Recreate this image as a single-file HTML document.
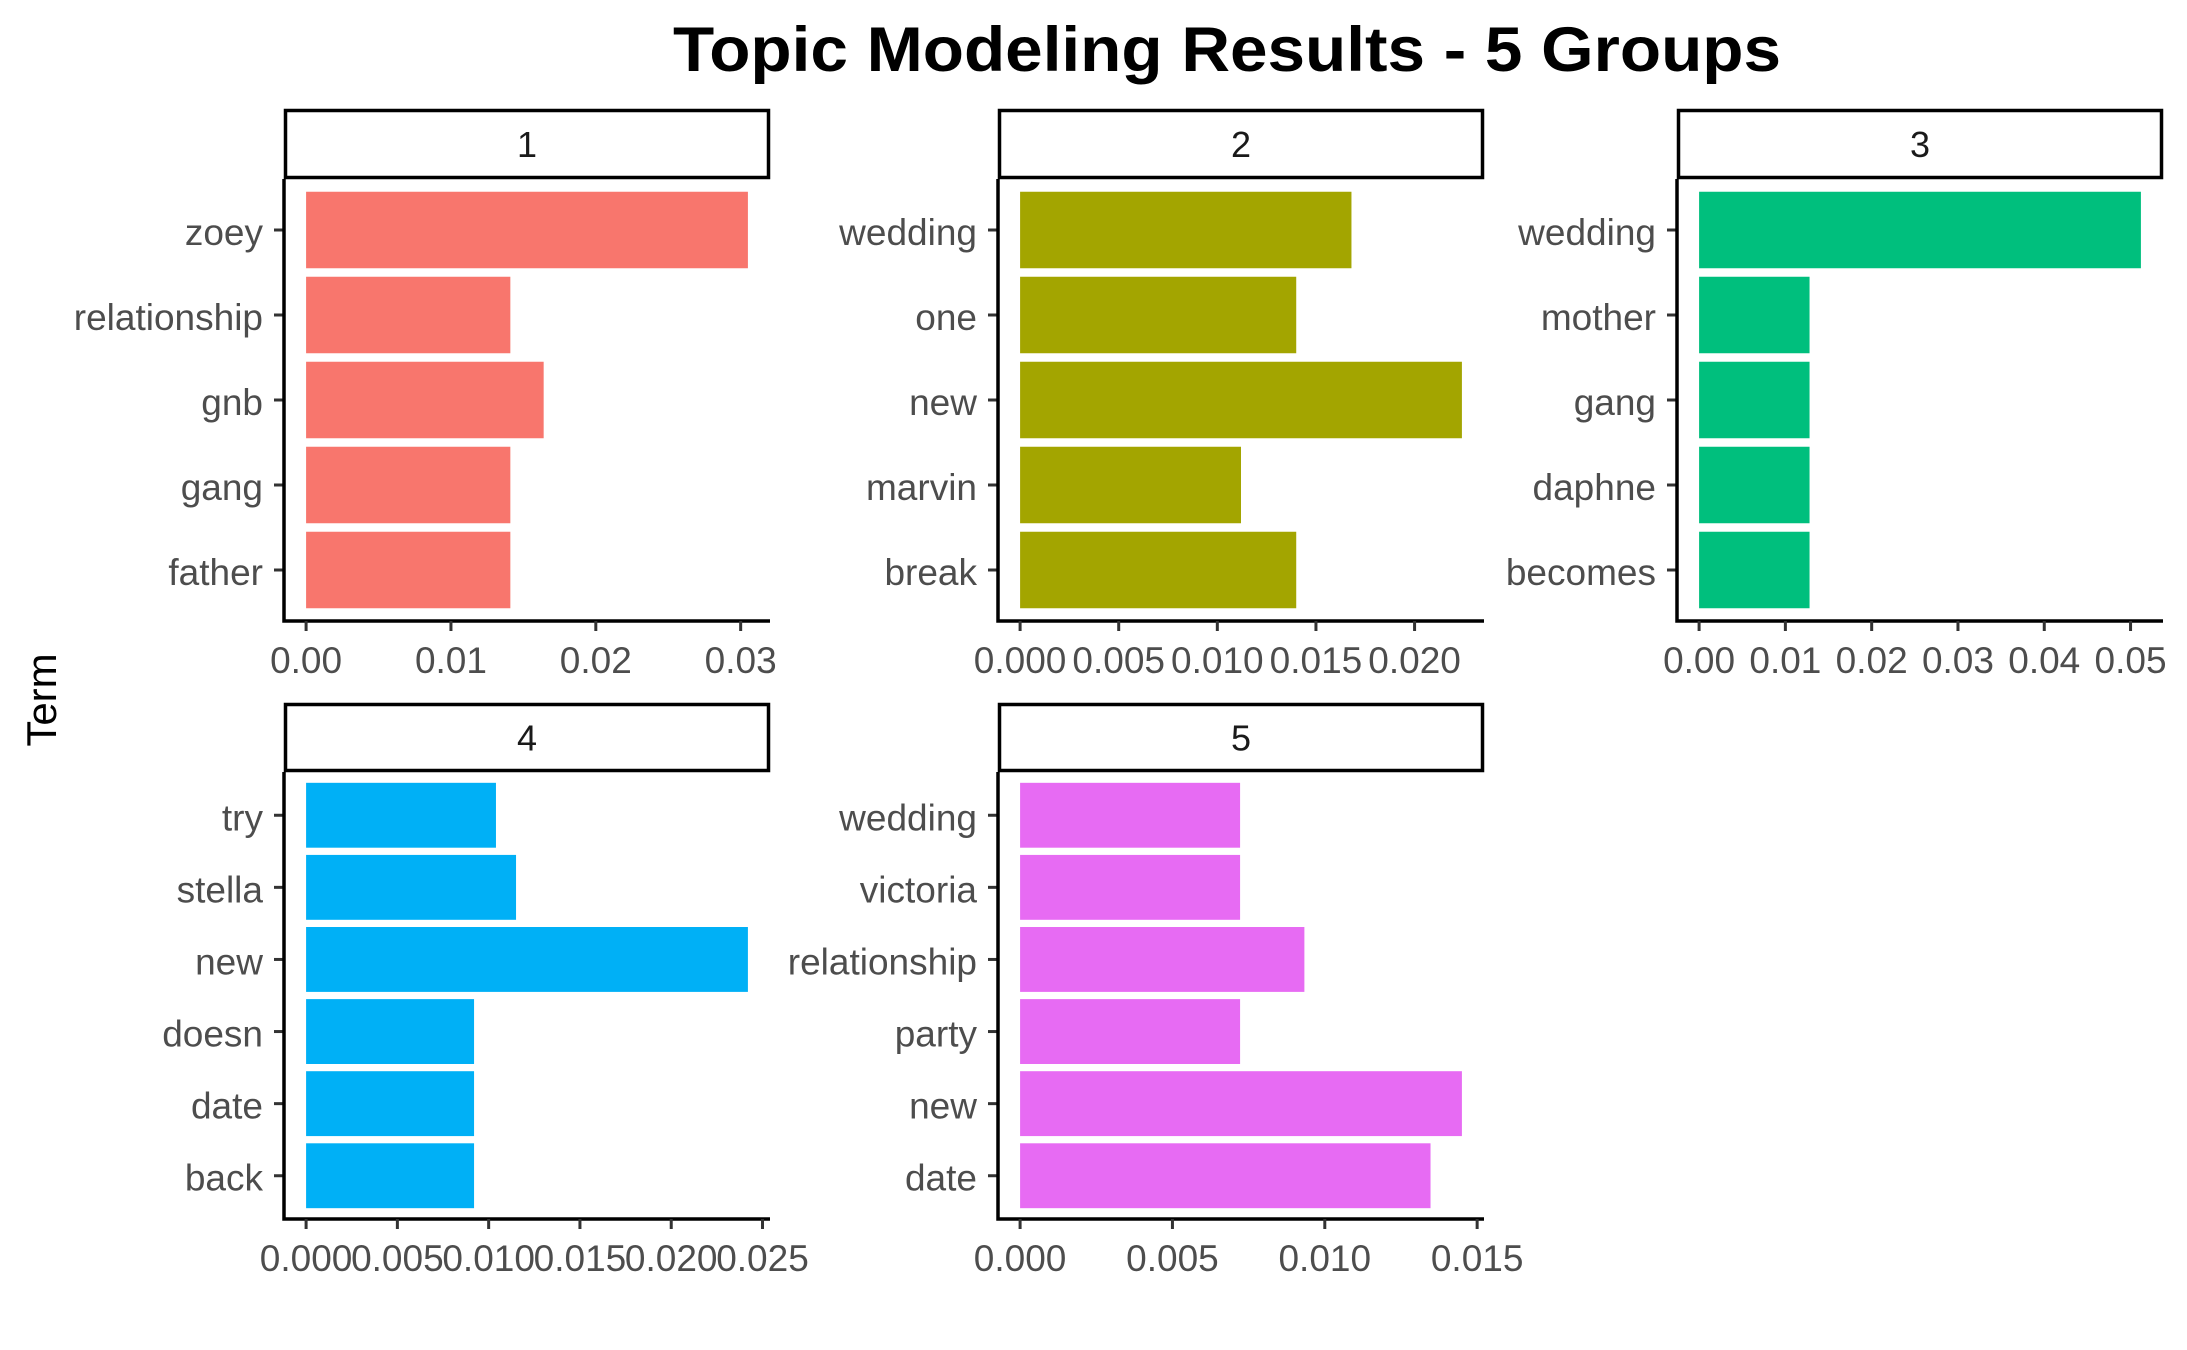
<!DOCTYPE html>
<html><head><meta charset="utf-8"><style>
html,body{margin:0;padding:0;background:#fff}
svg{display:block}
text{font-family:"Liberation Sans",Arial,sans-serif}
</style></head><body>
<svg id="chart" width="2187" height="1350" viewBox="0 0 2187 1350" xmlns="http://www.w3.org/2000/svg">
<text x="1227" y="71" text-anchor="middle" font-size="63" font-weight="bold" textLength="1108" lengthAdjust="spacingAndGlyphs">Topic Modeling Results - 5 Groups</text>
<text transform="translate(56,700) rotate(-90)" text-anchor="middle" font-size="42">Term</text>
<g id="panels"></g>
</svg>
<script>
const topics = ["1","2","3","4","5"];
const terms1 = ["zoey","relationship","gnb","gang","father"];
const beta1 = [0.0305,0.0141,0.0164,0.0141,0.0141];
const terms2 = ["wedding","one","new","marvin","break"];
const beta2 = [0.0168,0.0140,0.0224,0.0112,0.0140];
const terms3 = ["wedding","mother","gang","daphne","becomes"];
const beta3 = [0.0512,0.0128,0.0128,0.0128,0.0128];
const terms4 = ["try","stella","new","doesn","date","back"];
const beta4 = [0.0104,0.0115,0.0242,0.0092,0.0092,0.0092];
const terms5 = ["wedding","victoria","relationship","party","new","date"];
const beta5 = [0.00722,0.00722,0.00933,0.00722,0.0145,0.01347];
const ticks1 = [0,0.01,0.02,0.03];
const tickLabels1 = ["0.00","0.01","0.02","0.03"];
const ticks2 = [0,0.005,0.01,0.015,0.02];
const tickLabels2 = ["0.000","0.005","0.010","0.015","0.020"];
const ticks3 = [0,0.01,0.02,0.03,0.04,0.05];
const tickLabels3 = ["0.00","0.01","0.02","0.03","0.04","0.05"];
const ticks4 = [0,0.005,0.01,0.015,0.02,0.025];
const tickLabels4 = ["0.000","0.005","0.010","0.015","0.020","0.025"];
const ticks5 = [0,0.005,0.01,0.015];
const tickLabels5 = ["0.000","0.005","0.010","0.015"];
const colors = ["#F8766D","#A3A500","#00BF7D","#00B0F6","#E76BF3"];

const NS="http://www.w3.org/2000/svg";
const root=document.getElementById('panels');
function mk(tag,attrs,parent){const e=document.createElementNS(NS,tag);for(const k in attrs)e.setAttribute(k,attrs[k]);(parent||root).appendChild(e);return e;}
const cols=[284,998,1677];
const rows=[{st:109,sb:179,bot:621},{st:703,sb:772,bot:1219}];
const W=486;
const panels=[[terms1,beta1,ticks1,tickLabels1],[terms2,beta2,ticks2,tickLabels2],[terms3,beta3,ticks3,tickLabels3],[terms4,beta4,ticks4,tickLabels4],[terms5,beta5,ticks5,tickLabels5]];
panels.forEach((p,i)=>{
  const [terms,vals,ticks,tl]=p;
  const L=cols[i%3], R=L+W, row=rows[Math.floor(i/3)];
  const g=mk('g',{});
  
  
  const max=Math.max(...vals);
  const lo=-0.05*max, hi=1.05*max;
  const x=v=>L+(v-lo)/(hi-lo)*W;
  const top=row.sb, bot=row.bot, n=terms.length;
  const unit=(bot-top)/(n-1+1.2);
  const yc=j=>top+(0.6+j)*unit;
  const s=mk('rect',{x:L+1.5,y:row.st+1.5,width:W-3,height:row.sb-row.st-3,fill:'#fff',stroke:'#000','stroke-width':3.5},g);
  
  
  const st=mk('text',{x:L+W/2,y:(row.st+row.sb)/2+13,'text-anchor':'middle','font-size':36,fill:'#1a1a1a'},g);
  st.textContent=topics[i];
  
  
  vals.forEach((v,j)=>{
    const b=mk('rect',{x:x(0),y:yc(j)-0.45*unit,width:x(v)-x(0),height:0.9*unit,fill:colors[i]},g);
    
    
    mk('line',{x1:L-10,x2:L,y1:yc(j),y2:yc(j),stroke:'#333','stroke-width':3},g);
    const t=mk('text',{x:L-21,y:yc(j)+15,'text-anchor':'end','font-size':37,fill:'#4d4d4d'},g);
    t.textContent=terms[j];
    
    
  });
  const ax=mk('path',{d:`M${L},${top} L${L},${bot} L${R},${bot}`,fill:'none',stroke:'#000','stroke-width':3.5},g);
  
  
  ticks.forEach((tv,k)=>{
    mk('line',{x1:x(tv),x2:x(tv),y1:bot,y2:bot+10,stroke:'#333','stroke-width':3},g);
    const t=mk('text',{x:x(tv),y:bot+52,'text-anchor':'middle','font-size':37,fill:'#4d4d4d'},g);
    t.textContent=tl[k];
    
    
  });
});
</script>
</body></html>
